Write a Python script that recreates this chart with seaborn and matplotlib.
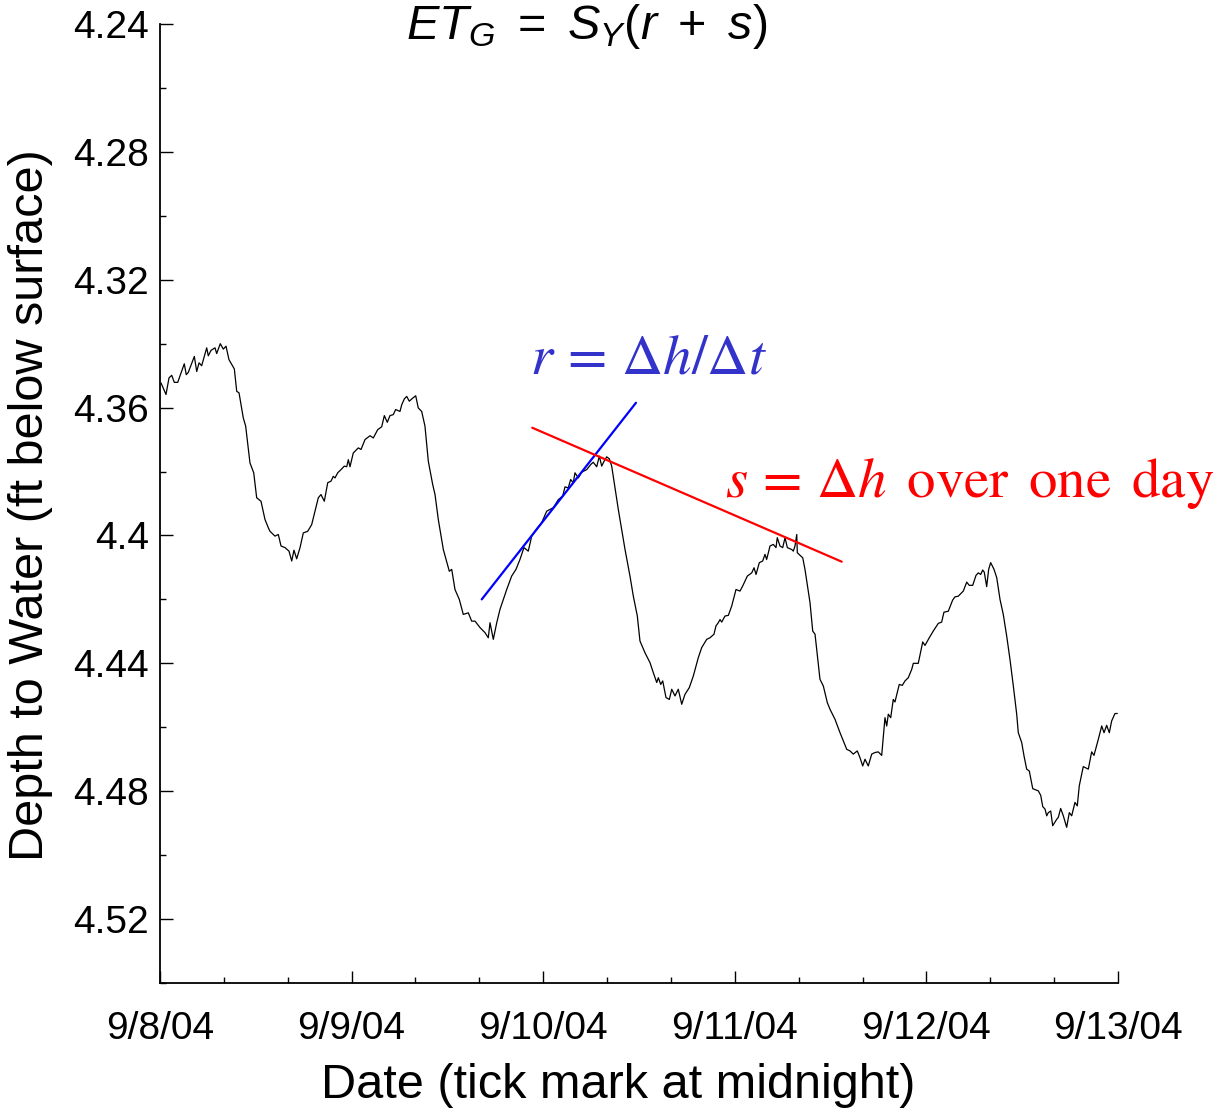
import numpy as np
import pandas as pd
import matplotlib
matplotlib.use("Agg")
import matplotlib.pyplot as plt
import seaborn as sns

# ---------------- data ----------------
hours = [0.13, 0.75, 1.13, 1.47, 1.79, 2.22, 3.04, 3.29, 3.54, 4.30, 4.60, 4.89, 5.22, 5.85, 6.05, 6.39,
         6.89, 7.10, 7.55, 7.93, 8.27, 8.64, 9.31, 9.61, 9.90, 10.43, 10.73, 11.27, 11.74, 12.11, 12.65,
         13.15, 13.57, 13.78, 14.40, 14.82, 15.16, 15.66, 16.16, 16.50, 16.78, 17.12, 17.54, 17.95, 18.50,
         19.00, 19.83, 20.17, 20.58, 21.01, 21.42, 21.71, 21.92, 22.26, 22.67, 23.09, 23.39, 23.59, 23.80,
         24.21, 24.84, 25.18, 25.68, 26.31, 26.72, 27.27, 27.77, 28.10, 28.47, 28.81, 29.22, 29.52, 30.06,
         30.28, 30.60, 30.90, 31.23, 31.53, 32.03, 32.35, 32.78, 33.19, 33.61, 34.16, 34.45, 34.86, 35.49,
         36.24, 36.54, 36.95, 37.49, 37.99, 38.62, 39.04, 39.46, 40.08, 40.71, 41.12, 41.34, 41.75, 42.18,
         42.59, 43.43, 44.05, 44.59, 45.09, 45.59, 46.13, 46.56, 47.19, 47.81, 48.44, 49.27, 49.89, 50.44,
         50.73, 51.14, 51.44, 51.77, 51.98, 52.40, 52.82, 53.45, 53.95, 54.27, 54.70, 55.03, 55.33, 55.62,
         55.95, 56.28, 56.58, 56.99, 57.41, 57.83, 58.25, 58.87, 59.29, 59.79, 60.12, 60.75, 61.38, 61.79,
         62.22, 62.42, 62.72, 62.97, 63.38, 63.80, 64.10, 64.51, 64.92, 65.35, 65.76, 66.30, 66.80, 67.43,
         67.85, 68.48, 68.89, 69.39, 69.64, 69.93, 70.15, 70.36, 70.77, 71.19, 71.61, 72.15, 72.65, 72.99,
         73.57, 74.12, 74.41, 74.66, 75.07, 75.49, 75.78, 75.99, 76.41, 76.82, 77.16, 77.32, 77.66, 78.00,
         78.29, 78.58, 79.13, 79.33, 79.54, 79.76, 79.83, 80.51, 80.79, 81.42, 81.76, 82.05, 82.67, 83.09,
         83.59, 83.93, 84.55, 85.18, 86.02, 86.43, 86.84, 87.34, 87.68, 88.02, 88.31, 88.72, 89.15, 89.56,
         89.97, 90.40, 90.81, 91.03, 91.23, 91.53, 91.85, 92.06, 92.60, 92.98, 93.32, 93.73, 94.16, 94.36,
         94.98, 95.54, 95.82, 96.36, 96.86, 97.49, 97.91, 98.20, 98.74, 99.29, 99.58, 99.99, 100.62, 101.05,
         101.37, 101.80, 102.21, 102.50, 102.80, 103.05, 103.25, 103.55, 103.80, 104.05, 104.47, 104.81,
         105.22, 105.63, 106.06, 106.47, 106.89, 107.31, 107.51, 107.94, 108.23, 108.56, 108.89, 109.32,
         110.02, 110.32, 110.57, 110.86, 111.07, 111.27, 111.57, 111.82, 112.32, 112.52, 112.82, 113.15,
         113.57, 113.90, 114.20, 114.61, 114.90, 115.15, 115.65, 116.28, 116.70, 116.99, 117.53, 117.96,
         118.25, 118.58, 118.91, 119.21, 119.62, 119.91]

depth = [4.3523, 4.3559, 4.3507, 4.3499, 4.3521, 4.3521, 4.3463, 4.3497, 4.3490, 4.3440, 4.3487, 4.3460,
         4.3469, 4.3413, 4.3438, 4.3421, 4.3413, 4.3431, 4.3400, 4.3417, 4.3408, 4.3450, 4.3479, 4.3549,
         4.3554, 4.3632, 4.3658, 4.3773, 4.3804, 4.3882, 4.3893, 4.3950, 4.3976, 4.3987, 4.4002, 4.3997,
         4.4033, 4.4038, 4.4049, 4.4080, 4.4046, 4.4073, 4.4038, 4.3992, 4.3987, 4.3966, 4.3882, 4.3872,
         4.3893, 4.3835, 4.3830, 4.3815, 4.3820, 4.3804, 4.3794, 4.3783, 4.3785, 4.3763, 4.3785, 4.3742,
         4.3726, 4.3731, 4.3700, 4.3688, 4.3695, 4.3669, 4.3660, 4.3625, 4.3646, 4.3625, 4.3622, 4.3606,
         4.3612, 4.3591, 4.3573, 4.3565, 4.3580, 4.3573, 4.3563, 4.3601, 4.3612, 4.3658, 4.3768, 4.3841,
         4.3872, 4.3950, 4.4044, 4.4112, 4.4106, 4.4169, 4.4200, 4.4247, 4.4242, 4.4268, 4.4268, 4.4288,
         4.4304, 4.4320, 4.4273, 4.4325, 4.4273, 4.4231, 4.4169, 4.4127, 4.4106, 4.4075, 4.4038, 4.4049,
         4.4002, 4.3979, 4.3960, 4.3924, 4.3913, 4.3888, 4.3877, 4.3848, 4.3851, 4.3825, 4.3835, 4.3804,
         4.3820, 4.3802, 4.3794, 4.3778, 4.3771, 4.3785, 4.3752, 4.3783, 4.3768, 4.3754, 4.3760, 4.3783,
         4.3851, 4.3919, 4.3981, 4.4044, 4.4127, 4.4190, 4.4252, 4.4330, 4.4367, 4.4398, 4.4429, 4.4460,
         4.4445, 4.4466, 4.4455, 4.4507, 4.4513, 4.4481, 4.4502, 4.4481, 4.4528, 4.4497, 4.4476, 4.4440,
         4.4382, 4.4351, 4.4325, 4.4320, 4.4309, 4.4283, 4.4273, 4.4263, 4.4271, 4.4252, 4.4250, 4.4221,
         4.4169, 4.4174, 4.4158, 4.4127, 4.4117, 4.4101, 4.4122, 4.4085, 4.4080, 4.4059, 4.4075, 4.4033,
         4.4028, 4.4038, 4.4007, 4.4033, 4.4038, 4.4007, 4.4038, 4.4044, 4.4049, 4.4033, 4.3997, 4.4054,
         4.4070, 4.4106, 4.4210, 4.4299, 4.4309, 4.4450, 4.4471, 4.4523, 4.4544, 4.4575, 4.4617, 4.4669,
         4.4674, 4.4684, 4.4674, 4.4695, 4.4721, 4.4700, 4.4721, 4.4684, 4.4679, 4.4677, 4.4688, 4.4570,
         4.4596, 4.4559, 4.4570, 4.4513, 4.4521, 4.4466, 4.4469, 4.4455, 4.4445, 4.4419, 4.4400, 4.4400,
         4.4333, 4.4344, 4.4320, 4.4299, 4.4275, 4.4271, 4.4240, 4.4237, 4.4202, 4.4192, 4.4190, 4.4174,
         4.4146, 4.4156, 4.4156, 4.4125, 4.4117, 4.4122, 4.4108, 4.4115, 4.4160, 4.4106, 4.4085, 4.4106,
         4.4132, 4.4200, 4.4247, 4.4315, 4.4388, 4.4471, 4.4559, 4.4617, 4.4648, 4.4690, 4.4731, 4.4737,
         4.4792, 4.4799, 4.4813, 4.4848, 4.4856, 4.4877, 4.4867, 4.4862, 4.4908, 4.4888, 4.4882, 4.4854,
         4.4877, 4.4913, 4.4867, 4.4877, 4.4835, 4.4846, 4.4783, 4.4723, 4.4731, 4.4677, 4.4688, 4.4638,
         4.4596, 4.4617, 4.4594, 4.4617, 4.4580, 4.4557, 4.4557]

# tangent line (r) and day-to-day line (s)
r_hours = [40.30, 59.62]
r_depth = [4.4200, 4.3585]
s_hours = [46.63, 85.39]
s_depth = [4.3663, 4.4082]

x_tick_hours = [0, 24, 48, 72, 96, 120]
x_tick_labels = ["9/8/04", "9/9/04", "9/10/04", "9/11/04", "9/12/04", "9/13/04"]
y_ticks = [4.24, 4.28, 4.32, 4.36, 4.40, 4.44, 4.48, 4.52]
y_tick_labels = ["4.24", "4.28", "4.32", "4.36", "4.4", "4.44", "4.48", "4.52"]

# ---------------- style ----------------
sns.set_theme(style="white")
plt.rcParams["font.family"] = ["Liberation Sans", "DejaVu Sans"]
plt.rcParams["mathtext.fontset"] = "custom"
plt.rcParams["mathtext.rm"] = "Liberation Sans"
plt.rcParams["mathtext.it"] = "Liberation Sans:italic"
plt.rcParams["mathtext.bf"] = "Liberation Sans:bold"

W, H = 1225, 1114
fig = plt.figure(figsize=(W / 100, H / 100), dpi=100)
ax = fig.add_axes([160 / W, 1 - 983 / H, (1118 - 160) / W, (983 - 24) / H])

df = pd.DataFrame({"hours": hours, "depth": depth})
sns.lineplot(data=df, x="hours", y="depth", color="black", linewidth=0.9,
             estimator=None, sort=False, ax=ax)
sns.lineplot(x=r_hours, y=r_depth, color="#0000ff", linewidth=1.6,
             estimator=None, sort=False, ax=ax)
sns.lineplot(x=s_hours, y=s_depth, color="#ff0000", linewidth=1.6,
             estimator=None, sort=False, ax=ax)

ax.set_xlim(0, 120)
ax.set_ylim(4.54, 4.24)

ax.set_xticks(x_tick_hours)
ax.set_xticklabels(x_tick_labels)
ax.set_xticks(np.arange(0, 121, 8), minor=True)
ax.set_yticks(y_ticks)
ax.set_yticklabels(y_tick_labels)
ax.set_yticks(np.arange(4.26, 4.54, 0.04), minor=True)

ax.tick_params(axis="both", which="major", direction="in", length=9, width=1.0,
               color="black", labelsize=28, labelcolor="black")
ax.tick_params(axis="both", which="minor", direction="in", length=4.5, width=1.0,
               color="black")
ax.tick_params(axis="x", which="major", pad=20)
ax.tick_params(axis="y", which="major", pad=8)
ax.tick_params(axis="both", which="both", bottom=True, left=True, top=False, right=False)

for side in ["top", "right"]:
    ax.spines[side].set_visible(False)
for side in ["left", "bottom"]:
    ax.spines[side].set_color("black")
    ax.spines[side].set_linewidth(1.3)

ax.set_xlabel("Date (tick mark at midnight)", fontsize=35, color="black")
ax.set_ylabel("Depth to Water (ft below surface)", fontsize=35, color="black")
ax.xaxis.set_label_coords((618 - 160) / (1118 - 160), -(1108 - 983) / (983 - 24))
ax.xaxis.label.set_va("bottom")
ax.yaxis.set_label_coords(-(160 - 8) / (1118 - 160), (983 - 505) / (983 - 24))
ax.yaxis.label.set_va("top")

fig.text(587 / W, 1 - 39 / H, r"$ET_G\ =\ S_Y(r\ +\ s)$", fontsize=35, ha="center",
         va="baseline", color="black")

fig.text(530 / W, 1 - 373 / H, r"$r\,=\,\Delta h/\Delta t$", fontsize=41,
         ha="left", va="baseline", color="#3333cc", math_fontfamily="stix")
fig.text(725 / W, 1 - 497 / H, r"$s\,=\,\Delta h\ \,\mathrm{over\ \,one\ \,day}$", fontsize=41,
         ha="left", va="baseline", color="#ff0000", math_fontfamily="stix")

fig.savefig("out.png", dpi=100, facecolor="white")
